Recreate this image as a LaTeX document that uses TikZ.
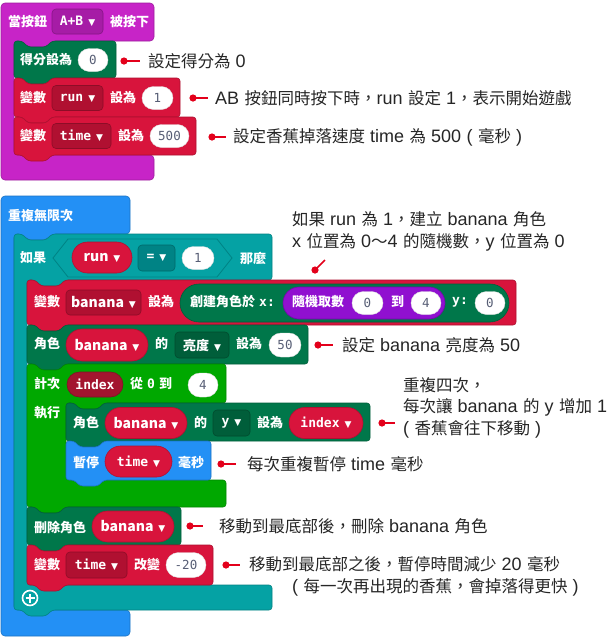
\documentclass[tikz,border=0pt]{standalone}
\usepackage{fontspec}
\usetikzlibrary{shapes.misc}
\newfontfamily\cjk{Noto Sans CJK TC}
\newfontfamily\cjka[WordSpace=1.35]{Noto Sans CJK TC}
\newfontfamily\latf[Scale=1.09,WordSpace=1.1]{Liberation Sans}
\newfontfamily\monof{DejaVu Sans Mono}
\newfontfamily\dvs{DejaVu Sans}
\let\switchC\relax
\let\switchL\relax
\XeTeXinterchartokenstate=1
\newXeTeXintercharclass\cjkclass
\makeatletter
\count@="3000
\loop \XeTeXcharclass\count@=\cjkclass \advance\count@ 1 \ifnum\count@<"A000 \repeat
\count@="FF00
\loop \XeTeXcharclass\count@=\cjkclass \advance\count@ 1 \ifnum\count@<"FFF0 \repeat
\makeatother
\XeTeXinterchartoks 0 \cjkclass = {\switchC}
\XeTeXinterchartoks 4095 \cjkclass = {\switchC}
\XeTeXinterchartoks \cjkclass 0 = {\switchL}
\XeTeXinterchartoks 4095 0 = {\switchL}
\definecolor{cMag}{HTML}{C724C7}
\definecolor{cMagD}{HTML}{A61CA6}
\definecolor{cRed}{HTML}{D8143C}
\definecolor{cRedD}{HTML}{B01031}
\definecolor{cIdx}{HTML}{A3152F}
\definecolor{cGame}{HTML}{00774A}
\definecolor{cGameD}{HTML}{005E3A}
\definecolor{cBlue}{HTML}{2390F5}
\definecolor{cTeal}{HTML}{05A2A4}
\definecolor{cTealD}{HTML}{008385}
\definecolor{cLoop}{HTML}{00A800}
\definecolor{cPur}{HTML}{9010D0}
\definecolor{cPurD}{HTML}{7408AA}
\definecolor{cNum}{HTML}{575E75}
\definecolor{cDot}{HTML}{E3001B}
\newcommand\bfnt{\cjk\bfseries\fontsize{13}{14}\selectfont}
\newcommand\mfnt{\monof\bfseries\fontsize{13}{14}\selectfont}
\newcommand\sfnt{\cjk\bfseries\fontsize{14}{15}\selectfont}
\newcommand\nfnt{\monof\fontsize{12.5}{14}\selectfont}
\newcommand\afnt{\def\switchC{\cjka}\def\switchL{\latf}\cjka\fontsize{16.5}{20}\selectfont}
\newcommand\tri{\hspace{5pt}{\dvs\fontsize{9}{9}\selectfont ▼}}
\newcommand\stmt[5]{%
 \filldraw[fill=#5, draw=#5!80!black, line width=.6pt, rounded corners=3pt]
 (#1,#2) -- (#1+8,#2) -- (#1+14,#2+6) -- (#1+32,#2+6) -- (#1+38,#2) -- (#3,#2) -- (#3,#4)
 -- (#1+38,#4) -- (#1+32,#4+6) -- (#1+14,#4+6) -- (#1+8,#4) -- (#1,#4) -- cycle;}
\newcommand\cblk[9]{%
 \filldraw[fill=#9, draw=#9!80!black, line width=.6pt, rounded corners=3pt]
 (#1,#2) -- (#1+8,#2) -- (#1+14,#2+6) -- (#1+32,#2+6) -- (#1+38,#2) -- (#3,#2) -- (#3,#4)
 -- (#5+38,#4) -- (#5+32,#4+6) -- (#5+14,#4+6) -- (#5+8,#4) -- (#5,#4) -- (#5,#6) -- (#7,#6) -- (#7,#8)
 -- (#1+38,#8) -- (#1+32,#8+6) -- (#1+14,#8+6) -- (#1+8,#8) -- (#1,#8) -- cycle;}
\newcommand\hatblk[9]{%
 \filldraw[fill=#9, draw=#9!80!black, line width=.6pt, rounded corners=4pt]
 (#1,#2) -- (#3,#2) -- (#3,#4)
 -- (#5+38,#4) -- (#5+32,#4+6) -- (#5+14,#4+6) -- (#5+8,#4) -- (#5,#4) -- (#5,#6) -- (#7,#6) -- (#7,#8)
 -- (#1,#8) -- cycle;}
\tikzset{
 bt/.style={anchor=west, inner sep=0pt, text=white, font=\bfnt},
 dbox/.style={rectangle, rounded corners=4pt, fill=#1, draw=#1!80!black, line width=.6pt, text=white, inner sep=0pt, minimum height=25pt, font=\mfnt},
 num/.style={rounded rectangle, fill=white, draw=black!12, text=cNum, font=\nfnt, inner sep=0pt, minimum height=23pt},
 var/.style={rounded rectangle, fill=cRed, draw=cRedD, line width=.6pt, text=white, font=\mfnt, inner sep=0pt, minimum height=31pt},
 ann/.style={anchor=west, inner sep=0pt, font=\afnt, text=black!85},
 conn/.style={draw=cDot, line width=1.6pt},
 dotm/.style={fill=cDot},
}
\begin{document}
\begin{tikzpicture}[x=1pt,y=-1pt]
\useasboundingbox (0,0) rectangle (609,638);
\fill[white] (0,0) rectangle (609,638);
% ---------- event block ----------
\hatblk{1}{3}{154}{41}{14}{155}{154}{180}{cMag}
\node[bt] (ev1) at (8,22) {當按鈕};
\node[dbox=cMagD, minimum width=51pt] (evdd) at (77.5,21.5) {A+B\tri};
\node[bt] (ev2) at (110,22) {被按下};
\stmt{14}{41}{116}{78}{cGame}
\node[bt] (s1t) at (20,60) {得分設為};
\node[num, minimum width=30pt] (s1n) at (93,60) {0};
\stmt{14}{78}{180}{117}{cRed}
\node[bt] (s2t) at (20,98) {變數};
\node[dbox=cRedD, minimum width=51pt] (s2d) at (77.5,98) {run\tri};
\node[bt] (s2u) at (110,98) {設為};
\node[num, minimum width=31pt] (s2n) at (157.5,98) {1};
\stmt{14}{117}{196}{155}{cRed}
\node[bt] (s3t) at (20,136) {變數};
\node[dbox=cRedD, minimum width=59pt] (s3d) at (81.5,136) {time\tri};
\node[bt] (s3u) at (118,136) {設為};
\node[num, minimum width=39pt] (s3n) at (169.5,136) {500};
% annotations top
\coordinate (p1) at (124,61);
\node[ann] (a1) at (148,61) {設定得分為 0};
\fill[dotm] (p1) circle (3.6pt);
\draw[conn] (p1) -- ([xshift=-8pt]a1.west);
\coordinate (p2) at (193,98);
\node[ann] (a2) at (215,98) {AB 按鈕同時按下時，run 設定 1，表示開始遊戲};
\fill[dotm] (p2) circle (3.6pt);
\draw[conn] (p2) -- ([xshift=-7pt]a2.west);
\coordinate (p3) at (212,137);
\node[ann] (a3) at (233,137) {設定香蕉掉落速度 time 為 500 ( 毫秒 )};
\fill[dotm] (p3) circle (3.6pt);
\draw[conn] (p3) -- ([xshift=-7pt]a3.west);
% ---------- forever ----------
\hatblk{1}{196}{130}{234}{14}{610}{130}{636}{cBlue}
\node[bt] (fv) at (8,215) {重複無限次};
% ---------- if ----------
\cblk{14}{234}{272}{280}{27}{585}{272}{610}{cTeal}
\node[bt] (if1) at (20,258) {如果};
\filldraw[fill=cTeal, draw=cTealD, line width=.8pt] (53,258) -- (68,239) -- (217,239) -- (232,258) -- (217,277) -- (68,277) -- cycle;
\node[var, minimum width=60pt, font=\sfnt] (ifv) at (102,257.5) {run\tri};
\node[dbox=cTealD, minimum width=37pt, minimum height=26pt] (ifeq) at (156.5,258) {=\tri};
\node[num, minimum width=32pt] (ifn) at (198,258) {1};
\node[bt] (if2) at (240,258) {那麼};
% set banana
\stmt{27}{280}{516}{325}{cRed}
\node[bt] (b1) at (34,302) {變數};
\node[dbox=cRedD, minimum width=75pt, font=\sfnt] (b1d) at (103.5,302.5) {banana\tri};
\node[bt] (b1u) at (148,302) {設為};
\node[rounded rectangle, fill=cGame, draw=cGameD, line width=.6pt, minimum width=329pt, minimum height=38pt, inner sep=0pt] (mk) at (344.5,303) {};
\node[bt] (mkt) at (190,302) {創建角色於 {\mfnt x:}};
\node[rounded rectangle, fill=cPur, draw=cPurD, line width=.6pt, minimum width=162pt, minimum height=32pt, inner sep=0pt] (rnd) at (364,303) {};
\node[bt] (rndt) at (292,302) {隨機取數};
\node[num, minimum width=31pt] (rn0) at (367.5,303) {0};
\node[bt] (rto) at (391,302) {到};
\node[num, minimum width=30pt] (rn4) at (426,303) {4};
\node[bt, font=\mfnt] (yl) at (452,302) {y:};
\node[num, minimum width=30pt] (yn) at (490,303) {0};
% brightness
\stmt{27}{325}{308}{364}{cGame}
\node[bt] (br1) at (34,344) {角色};
\node[var, minimum width=82pt, minimum height=32pt, font=\sfnt] (brv) at (107,345) {banana\tri};
\node[bt] (br2) at (155,344) {的};
\node[dbox=cGameD, minimum width=54pt, minimum height=26pt] (brd) at (202,345) {{\bfnt 亮度}\tri};
\node[bt] (br3) at (236,344) {設為};
\node[num, minimum width=32pt, minimum height=24pt] (brn) at (285,345) {50};
% for loop
\cblk{27}{364}{226}{403}{66}{480}{226}{507}{cLoop}
\node[bt] (fo1) at (34,384) {計次};
\node[var, fill=cIdx, draw=cIdx!80!black, minimum width=56pt, minimum height=25pt] (fov) at (95,384.5) {index};
\node[bt] (fo2) at (130,384) {從 {\mfnt 0} 到};
\node[num, minimum width=30pt, minimum height=24pt] (fon) at (203,385) {4};
\node[bt] (fo3) at (34,413) {執行};
% set y
\stmt{66}{403}{370}{441}{cGame}
\node[bt] (y1) at (73,423) {角色};
\node[var, minimum width=82pt, font=\sfnt] (yv) at (146,423) {banana\tri};
\node[bt] (y2) at (194,423) {的};
\node[dbox=cGameD, minimum width=37pt, minimum height=26pt] (yd) at (231.5,423) {y\tri};
\node[bt] (y3) at (257,423) {設為};
\node[var, minimum width=74pt] (yi) at (326,423) {index\tri};
% pause
\stmt{66}{441}{211}{480}{cBlue}
\node[bt] (pa1) at (73,462) {暫停};
\node[var, minimum width=67pt] (pav) at (138.5,461.5) {time\tri};
\node[bt] (pa2) at (178,462) {毫秒};
% delete
\stmt{27}{507}{181}{545}{cGame}
\node[bt] (de1) at (34,527) {刪除角色};
\node[var, minimum width=82pt, font=\sfnt] (dev) at (133,526.5) {banana\tri};
% change
\stmt{27}{545}{213}{585}{cRed}
\node[bt] (ch1) at (34,565) {變數};
\node[dbox=cRedD, minimum width=61pt, minimum height=26pt] (chd) at (96.5,565) {time\tri};
\node[bt] (ch2) at (134,565) {改變};
\node[num, minimum width=40pt, minimum height=25pt] (chn) at (186,565) {-20};
% plus icon
\coordinate (pl) at (30,598);
\draw[white, line width=1.6pt] (pl) circle (7.5pt);
\draw[white, line width=2.2pt] ([xshift=-4.5pt]pl) -- ([xshift=4.5pt]pl) ([yshift=-4.5pt]pl) -- ([yshift=4.5pt]pl);
% ---------- annotations lower ----------
\node[ann] (a4) at (292,219) {如果 run 為 1，建立 banana 角色};
\node[ann] (a4b) at (292,242) {x 位置為 0～4 的隨機數，y 位置為 0};
\coordinate (p4) at (315,270);
\coordinate (p4e) at (325,260);
\fill[dotm] (p4) circle (3.6pt);
\draw[conn] (p4) -- (p4e);
\coordinate (p5) at (318,345);
\node[ann] (a5) at (342,345) {設定 banana 亮度為 50};
\fill[dotm] (p5) circle (3.6pt);
\draw[conn] (p5) -- ([xshift=-9pt]a5.west);
\node[ann] (a6) at (403,385) {重複四次，};
\node[ann] (a6b) at (403,407) {每次讓 banana 的 y 增加 1};
\node[ann] (a6c) at (403,429) {( 香蕉會往下移動 )};
\coordinate (p6) at (382,423);
\coordinate (p6e) at (395,423);
\fill[dotm] (p6) circle (3.6pt);
\draw[conn] (p6) -- (p6e);
\coordinate (p7) at (221,464);
\node[ann] (a7) at (247,464) {每次重複暫停 time 毫秒};
\fill[dotm] (p7) circle (3.6pt);
\draw[conn] (p7) -- ([xshift=-11pt]a7.west);
\coordinate (p8) at (190,526);
\node[ann] (a8) at (219,526) {移動到最底部後，刪除 banana 角色};
\fill[dotm] (p8) circle (3.6pt);
\draw[conn] (p8) -- ([xshift=-16pt]a8.west);
\coordinate (p9) at (226,565);
\node[ann] (a9) at (249,564) {移動到最底部之後，暫停時間減少 20 毫秒};
\node[ann] (a9b) at (292,587) {( 每一次再出現的香蕉，會掉落得更快 )};
\fill[dotm] (p9) circle (3.6pt);
\draw[conn] (p9) -- ([xshift=-9pt,yshift=-1pt]a9.west);
\end{tikzpicture}
\end{document}
